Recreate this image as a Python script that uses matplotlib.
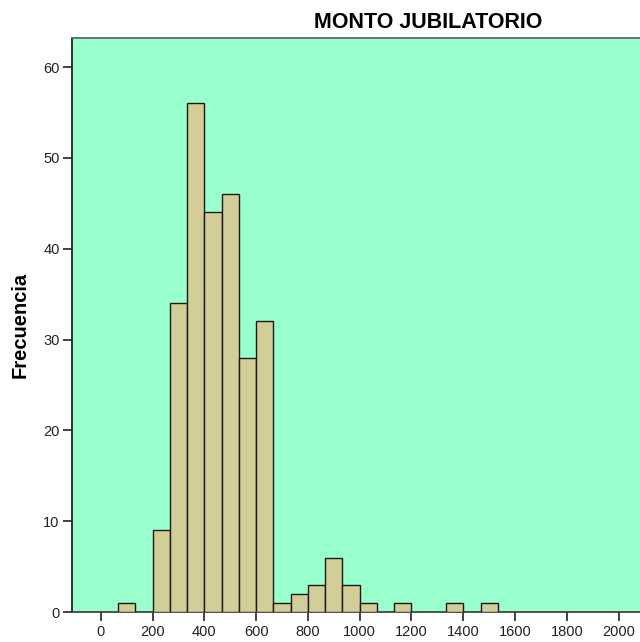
import numpy as np
import matplotlib
matplotlib.use("Agg")
import matplotlib.pyplot as plt

# -------------------------------
# DATOS (histograma, ancho de clase ~66.7)
# -------------------------------

bin_width = 2000 / 30
bin_left = [1, 3, 4, 5, 6, 7, 8, 9, 10, 11, 12, 13, 14, 15, 17, 20, 22]   # en unidades de bin_width
counts = [1, 9, 34, 56, 44, 46, 28, 32, 1, 2, 3, 6, 3, 1, 1, 1, 1]
x_ticks = [0, 200, 400, 600, 800, 1000, 1200, 1400, 1600, 1800, 2000]
y_ticks = [0, 10, 20, 30, 40, 50, 60]

plt.rcParams["font.family"] = ["Liberation Sans", "DejaVu Sans"]

fig = plt.figure(figsize=(6.4, 6.42), dpi=100)
ax = fig.add_axes([0.1125, 0.0467, 0.95, 0.894])
ax.set_facecolor("#99FFCC")

lefts = np.array(bin_left) * bin_width
ax.bar(lefts, counts, width=bin_width, align="edge",
       color="#D3CE97", edgecolor="#1a1a1a", linewidth=1.0, zorder=3)

# limites calculados a partir de la posicion de los ticks en la imagen
ax.set_xlim(-111, 2237)
ax.set_ylim(0, 63.2)

ax.set_xticks(x_ticks)
ax.set_yticks(y_ticks)
ax.tick_params(axis="both", direction="out", length=6.5, width=1.2,
               color="#222222", labelsize=10.5, labelcolor="#222222", pad=2.5)

for side in ["top", "left", "bottom"]:
    ax.spines[side].set_linewidth(1.3)
ax.spines["top"].set_color("#666666")
ax.spines["left"].set_color("#222222")
ax.spines["bottom"].set_color("#444444")
ax.spines["right"].set_visible(False)

fig.text(428 / 640, 1 - 22.5 / 642, "MONTO JUBILATORIO",
         ha="center", va="center", fontsize=15.5, fontweight="bold")
fig.text(20.5 / 640, 1 - 325 / 642, "Frecuencia", rotation=90,
         ha="center", va="center", fontsize=14.5, fontweight="bold")

fig.savefig("out.png", dpi=100)
